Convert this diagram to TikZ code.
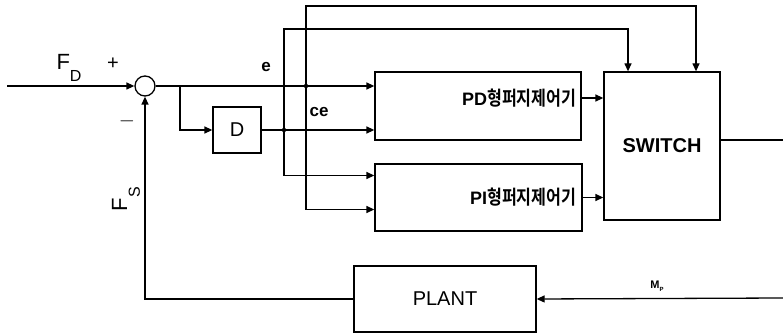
\documentclass[tikz,border=0pt]{standalone}
\usepackage{fontspec}
\setmainfont{Liberation Sans}
\newfontfamily\kr{Noto Sans CJK KR}[BoldFont=* Bold]
\usetikzlibrary{arrows.meta,calc}
\newcommand{\krlabel}[1]{\scalebox{0.95}[1.15]{\kr\fontsize{17}{20}\selectfont\bfseries #1}}
\begin{document}
\begin{tikzpicture}[x=1pt,y=-1pt,
  line width=1.3pt,
  arr/.style={-{Triangle[length=8pt,width=7pt]}},
  blk/.style={draw,rectangle,inner sep=0pt},
  jdot/.style={circle,fill,inner sep=0pt,minimum size=4.5pt},
  ctrltxt/.style={font=\fontsize{18}{20}\selectfont\bfseries,anchor=east,inner sep=0pt}]
\useasboundingbox (0,0) rectangle (783,336);

% summing junction and blocks
\node[draw,circle,minimum size=20pt,inner sep=0pt] (sum) at (145,86) {};
\node[blk,minimum width=48pt,minimum height=46pt] (D) at (237,130)
  {\fontsize{20}{22}\selectfont D};
\node[blk,minimum width=206pt,minimum height=68pt] (PD) at (478,106) {};
\node[blk,minimum width=207pt,minimum height=67pt] (PI) at (478.5,197.5) {};
\node[blk,minimum width=116pt,minimum height=148pt] (SW) at (662,146)
  {\fontsize{20}{22}\selectfont\bfseries SWITCH};
\node[blk,minimum width=182pt,minimum height=66pt] (PL) at (445,299)
  {\fontsize{20}{22}\selectfont PLANT};

% controller labels
\node[ctrltxt] (pdt) at (577,98) {PD\krlabel{형퍼지제어기}};
\node[ctrltxt] (pit) at (577,197) {PI\krlabel{형퍼지제어기}};

% branch points
\coordinate (in) at (7,86);
\coordinate (br) at (180,86);
\coordinate (ee) at (306,86);
\coordinate (ce) at (284,130);
\coordinate (t1) at (306,6);
\coordinate (t2) at (284,29);
\coordinate (out) at (783,140);
\coordinate (mp) at (783,298);

% forward path
\draw[arr] (in) -- (sum.west);
\draw[arr] (sum.east) -- (sum.east -| PD.west);
\draw[arr] (br) |- (D.west);
\draw[arr] (D.east) -- (D.east -| PD.west);
\draw[arr] (ee) -- (t1) -| ([xshift=34pt]SW.north);
\draw[arr] (ce) -- (t2) -| ([xshift=-34pt]SW.north);
\draw[arr] (ee) |- ([yshift=-12pt]PI.west);
\draw[arr] (ce) |- ([yshift=22pt]PI.west);
\draw[arr] ([yshift=8pt]PD.east) -- ([yshift=8pt]PD.east -| SW.west);
\draw[arr] (PI.east) -- (PI.east -| SW.west);
\draw ([yshift=6pt]SW.east) -- (out);

% feedback path
\draw[arr] (mp) -- (PL.east);
\draw[arr] (PL.west) -| (sum.south);

\node[jdot] at (ee) {};
\node[jdot] at (ce) {};

% signal labels
\node (fd) at (69,68) {\fontsize{22}{24}\selectfont F\raisebox{-1.1ex}{\fontsize{16}{16}\selectfont D}};
\node (plus) at (113,64) {\fontsize{20}{22}\selectfont +};
\node (minus) at (127,121) {\fontsize{20}{22}\selectfont $-$};
\node[rotate=90] (fs) at (126,199) {\fontsize{22}{24}\selectfont F\raisebox{-1.1ex}{\fontsize{16}{16}\selectfont S}};
\node (elab) at (266,67) {\fontsize{17}{18}\selectfont\bfseries e};
\node (celab) at (319,112) {\fontsize{17}{18}\selectfont\bfseries ce};
\node (mplab) at (657,286) {\fontsize{11}{12}\selectfont\bfseries M\raisebox{-0.6ex}{\fontsize{6}{6}\selectfont P}};
\end{tikzpicture}
\end{document}
